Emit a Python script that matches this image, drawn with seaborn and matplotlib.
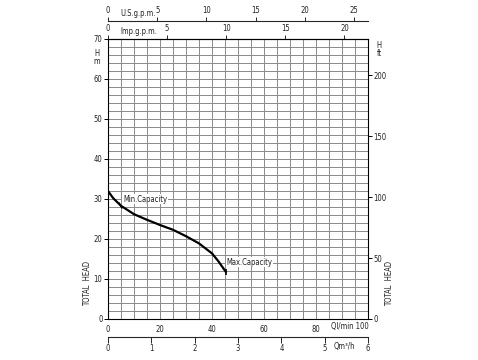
import numpy as np
import pandas as pd
import matplotlib
matplotlib.use("Agg")
import matplotlib.pyplot as plt
import seaborn as sns

# ---- data ----
flow_lmin = [0, 2, 5, 10, 15, 20, 25, 30, 35, 40, 42.5, 45.3]
head_m = [32.0, 30.2, 28.3, 26.2, 24.8, 23.5, 22.3, 20.7, 18.9, 16.4, 14.4, 11.8]
x_ticks = [0, 20, 40, 60, 80, 100]
y_ticks = [0, 10, 20, 30, 40, 50, 60, 70]
ft_ticks = [0, 50, 100, 150, 200]
usgpm_ticks = [0, 5, 10, 15, 20, 25]
impgpm_ticks = [0, 5, 10, 15, 20]
m3h_ticks = [0, 1, 2, 3, 4, 5, 6]
min_cap = (4.5, 28.6)
max_cap = (45.3, 11.8)

sns.set_style("white")
plt.rcParams['font.family'] = ['DejaVu Sans Condensed', 'Liberation Sans Narrow', 'DejaVu Sans']
plt.rcParams['font.stretch'] = 'condensed'
FS = 5.5
TC = "#222222"

W, H = 478, 360
fig = plt.figure(figsize=(W / 100, H / 100), dpi=100)
L, R, T, B = 108, 368, 39, 319
ax = fig.add_axes([L / W, 1 - B / H, (R - L) / W, (B - T) / H])

df = pd.DataFrame({"Q": flow_lmin, "H": head_m})
sns.lineplot(data=df, x="Q", y="H", ax=ax, color="black", lw=1.6, zorder=5)

ax.set_xlim(0, 100)
ax.set_ylim(0, 70)
ax.set_xticks(np.arange(0, 101, 5), minor=True)
ax.set_yticks(np.arange(0, 71, 2), minor=True)
ax.set_xticks(x_ticks)
ax.set_yticks(y_ticks)
ax.set_xticklabels([str(v) for v in x_ticks[:-1]] + [""], fontsize=FS, color=TC)
ax.set_yticklabels([str(v) for v in y_ticks], fontsize=FS, color=TC)
ax.grid(which="both", color="#8a8a8a", lw=0.7)
ax.tick_params(which="major", direction="out", length=3, width=0.7, pad=1, color="black")
ax.tick_params(which="minor", length=0)
for s in ax.spines.values():
    s.set_color("black")
    s.set_linewidth(0.8)
ax.set_xlabel("")
ax.set_ylabel("")

# markers for min / max capacity
ax.plot([min_cap[0]], [min_cap[1]], marker=(2, 0, 30), ms=5, mew=1.0, color="black", zorder=6)
ax.plot([max_cap[0]], [max_cap[1]], marker="|", ms=5, mew=1.2, color="black", zorder=6)
bb = dict(facecolor="white", edgecolor="none", pad=0.5)
ax.text(5.8, 30, "Min.Capacity", fontsize=FS, va="center", ha="left", bbox=bb, zorder=7, color=TC)
ax.text(45.6, 14.2, "Max.Capacity", fontsize=FS, va="center", ha="left", bbox=bb, zorder=7, color=TC)

# right axis in feet
axr = ax.twinx()
axr.set_ylim(0, 70 / 0.3048)
axr.set_yticks(ft_ticks)
axr.set_yticklabels([str(v) for v in ft_ticks], fontsize=FS, color=TC)
axr.tick_params(direction="out", length=3, width=0.7, pad=1, color="black")
axr.grid(False)
for s in axr.spines.values():
    s.set_visible(False)

# top axes: Imp gpm (at frame top) and US gpm (above)
imp = ax.secondary_xaxis("top", functions=(lambda q: q * 0.219969, lambda g: g / 0.219969))
imp.set_xticks(impgpm_ticks)
imp.set_xticklabels([str(v) for v in impgpm_ticks], fontsize=FS, color=TC)
imp.tick_params(direction="out", length=3, width=0.7, pad=1)
us_loc = 1 + (T - 21) / (B - T)
us = ax.secondary_xaxis(us_loc, functions=(lambda q: q * 0.264172, lambda g: g / 0.264172))
us.set_xticks(usgpm_ticks)
us.set_xticklabels([str(v) for v in usgpm_ticks], fontsize=FS, color=TC)
us.tick_params(direction="out", length=3, width=0.7, pad=1)
us.spines["top"].set_linewidth(0.8)

# bottom m3/h axis
m3_loc = -(337 - B) / (B - T)
m3 = ax.secondary_xaxis(m3_loc, functions=(lambda q: q * 0.06, lambda m: m / 0.06))
m3.set_xticks(m3h_ticks)
m3.set_xticklabels([str(v) for v in m3h_ticks], fontsize=FS, color=TC)
m3.tick_params(direction="out", length=4, width=0.7, pad=1)
m3.spines["bottom"].set_linewidth(0.8)

# unit labels
def ft(x, y, s, **kw):
    fig.text(x / W, 1 - y / H, s, fontsize=FS, color=TC, **kw)

ft(120, 13, "U.S.g.p.m.", va="center", ha="left")
ft(120, 31, "Imp.g.p.m.", va="center", ha="left")
ft(97, 53, "H", va="center", ha="center")
ft(97, 61, "m", va="center", ha="center")
ft(379, 46, "H", va="center", ha="center")
ft(379, 54, "ft", va="center", ha="center")
ft(331, 327, "Ql/min 100", va="center", ha="left")
ft(334, 347, "Qm³/h", va="center", ha="left")
ft(88, 283, "TOTAL  HEAD", va="center", ha="center", rotation=90)
ft(390, 283, "TOTAL  HEAD", va="center", ha="center", rotation=90)

fig.savefig("out.png", dpi=100)
